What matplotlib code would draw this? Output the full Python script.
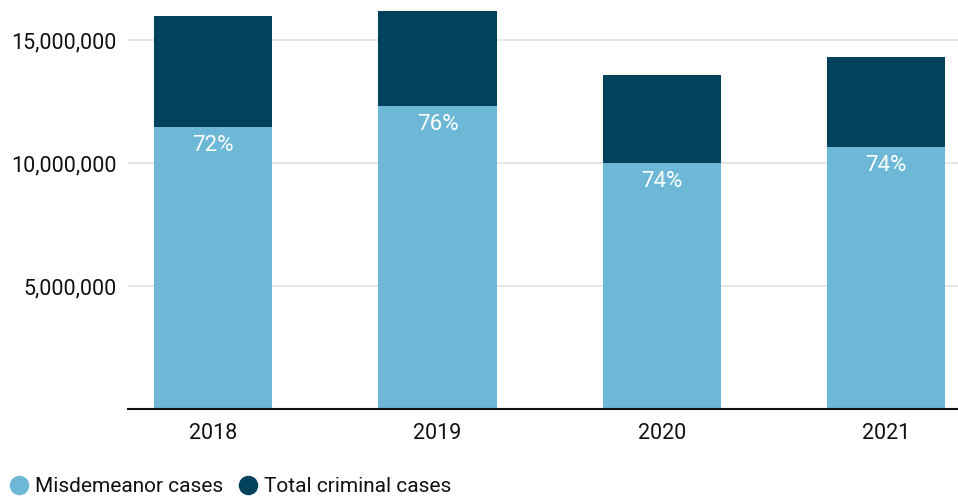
import matplotlib
matplotlib.use("Agg")
import matplotlib.pyplot as plt
from matplotlib.lines import Line2D
from matplotlib.ticker import FuncFormatter

years = ["2018", "2019", "2020", "2021"]
total_cases = [15_980_000, 16_180_000, 13_580_000, 14_310_000]
misdemeanor_cases = [11_460_000, 12_320_000, 10_000_000, 10_650_000]
y_ticks = [5_000_000, 10_000_000, 15_000_000]

LIGHT = "#6db8d6"
DARK = "#03425c"

plt.rcParams["font.family"] = ["Roboto", "DejaVu Sans"]

fig = plt.figure(figsize=(9.58, 4.96), dpi=100)
ax = fig.add_axes([128 / 958, 87 / 496, 830 / 958, 409 / 496])

x = list(range(len(years)))
width = 0.527
ax.bar(x, total_cases, width=width, color=DARK, zorder=3, label="Total criminal cases")
ax.bar(x, misdemeanor_cases, width=width, color=LIGHT, zorder=4, label="Misdemeanor cases")

for xi, t, m in zip(x, total_cases, misdemeanor_cases):
    pct = round(m / t * 100)
    ax.annotate(f"{pct}%", (xi, m), xytext=(0, -18), textcoords="offset pixels",
                ha="center", va="center", color="white", fontsize=16, zorder=5)

ax.set_xlim(-0.38, 3.32)
ax.set_ylim(0, 16_630_000)
ax.set_yticks(y_ticks)
ax.yaxis.set_major_formatter(FuncFormatter(lambda v, _: f"{int(v):,}"))
ax.set_xticks(x)
ax.set_xticklabels(years)
ax.tick_params(axis="both", length=0, labelsize=15.5, colors="#111111")
ax.tick_params(axis="y", pad=8)
ax.tick_params(axis="x", pad=10)

ax.grid(axis="y", color="#e6e6e6", linewidth=1.5, zorder=0)
for side in ["top", "right", "left"]:
    ax.spines[side].set_visible(False)
ax.spines["bottom"].set_color("#111111")
ax.spines["bottom"].set_linewidth(1.5)
ax.spines["bottom"].set_zorder(6)

handles = [
    Line2D([], [], marker="o", linestyle="none", markersize=13, color=LIGHT, label="Misdemeanor cases"),
    Line2D([], [], marker="o", linestyle="none", markersize=13, color=DARK, label="Total criminal cases"),
]
fig.legend(handles=handles, loc="lower left", bbox_to_anchor=(-0.006, -0.03), ncol=2, frameon=False,
           fontsize=15, handletextpad=0.25, columnspacing=0.7, handlelength=1.0, borderaxespad=0.3,
           labelcolor="#111111")

fig.savefig("out.png", dpi=100)
